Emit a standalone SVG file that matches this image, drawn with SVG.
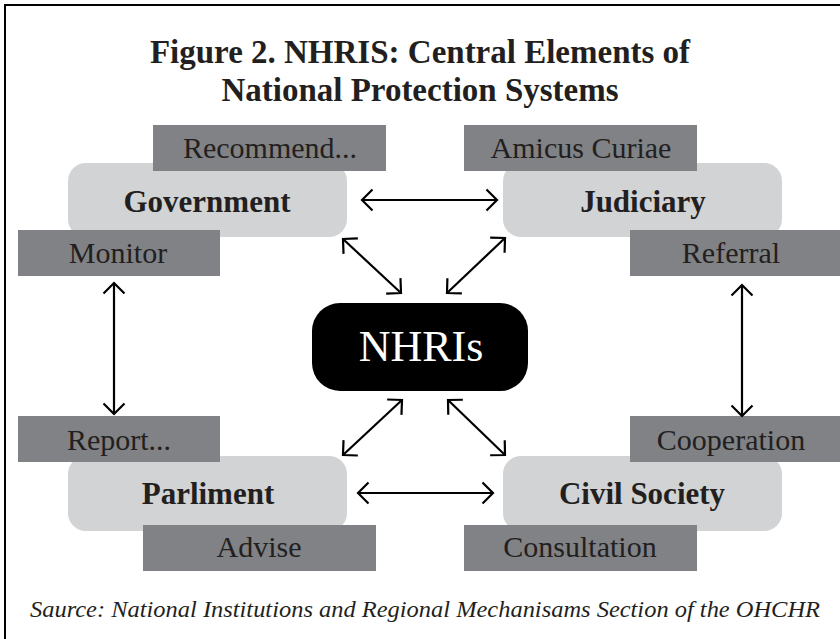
<svg xmlns="http://www.w3.org/2000/svg" width="840" height="639" viewBox="0 0 840 639">
<style>
.title{font-family:"Liberation Serif",serif;font-weight:bold;font-size:33px;fill:#231f20;text-anchor:middle}
.src{font-family:"Liberation Serif",serif;font-style:italic;font-size:24px;fill:#231f20}
.node{fill:#d1d3d4}
.ntext{font-family:"Liberation Serif",serif;font-weight:bold;font-size:31px;fill:#231f20;text-anchor:middle}
.lab{fill:#808285}
.ltext{font-family:"Liberation Serif",serif;font-size:30px;fill:#231f20;text-anchor:middle}
.conn line{stroke:#000;stroke-width:2.2;marker-start:url(#ah);marker-end:url(#ah)}
</style>
<defs>
<marker id="ah" markerUnits="userSpaceOnUse" viewBox="-13 -13 15 26" markerWidth="15" markerHeight="26" refX="0" refY="0" orient="auto-start-reverse" overflow="visible">
<path d="M-10.5,-10.5 L0,0 L-10.5,10.5" fill="none" stroke="#000" stroke-width="2.2"/>
</marker>
</defs>
<rect x="5" y="5" width="850" height="650" fill="none" stroke="#000" stroke-width="2"/>
<text class="title" x="420" y="63">Figure 2. NHRIS: Central Elements of</text>
<text class="title" x="420" y="101">National Protection Systems</text>

<g id="government"><rect class="node" x="68" y="163" width="279" height="74" rx="18"/><text class="ntext" x="207" y="212">Government</text></g>
<g id="judiciary"><rect class="node" x="503" y="163" width="279" height="74" rx="18"/><text class="ntext" x="643" y="212">Judiciary</text></g>
<g id="parliment"><rect class="node" x="68" y="456" width="279" height="75" rx="18"/><text class="ntext" x="208" y="504">Parliment</text></g>
<g id="civil-society"><rect class="node" x="503" y="456" width="279" height="75" rx="18"/><text class="ntext" x="642" y="504">Civil Society</text></g>
<g id="nhris"><rect x="312" y="303" width="216" height="88" rx="28" fill="#000"/><text x="421" y="361" font-family="Liberation Serif, serif" font-size="44" fill="#fff" text-anchor="middle">NHRIs</text></g>

<g id="label-recommend"><rect class="lab" x="153" y="125" width="233" height="46"/><text class="ltext" x="270" y="158">Recommend...</text></g>
<g id="label-amicus"><rect class="lab" x="464" y="125" width="233" height="46"/><text class="ltext" x="581" y="158">Amicus Curiae</text></g>
<g id="label-monitor"><rect class="lab" x="18" y="230" width="202" height="46"/><text class="ltext" x="118" y="263">Monitor</text></g>
<g id="label-referral"><rect class="lab" x="630" y="230" width="210" height="46"/><text class="ltext" x="731" y="263">Referral</text></g>
<g id="label-report"><rect class="lab" x="18" y="416" width="202" height="46"/><text class="ltext" x="119" y="450">Report...</text></g>
<g id="label-cooperation"><rect class="lab" x="630" y="416" width="210" height="46"/><text class="ltext" x="731" y="450">Cooperation</text></g>
<g id="label-advise"><rect class="lab" x="143" y="525" width="233" height="46"/><text class="ltext" x="259" y="557">Advise</text></g>
<g id="label-consultation"><rect class="lab" x="464" y="525" width="233" height="46"/><text class="ltext" x="580" y="557">Consultation</text></g>

<g id="connectors" class="conn">
<line x1="362" y1="200" x2="497" y2="200"/>
<line x1="358" y1="493" x2="493" y2="493"/>
<line x1="114" y1="283" x2="114" y2="414"/>
<line x1="742" y1="285" x2="742" y2="416"/>
<line x1="343" y1="239" x2="401" y2="293"/>
<line x1="505" y1="238" x2="447" y2="293"/>
<line x1="343" y1="455" x2="402" y2="400"/>
<line x1="505" y1="455" x2="448" y2="400"/>
</g>

<text class="src" x="30" y="617" textLength="790" lengthAdjust="spacingAndGlyphs">Saurce: National Institutions and Regional Mechanisams Section of the OHCHR</text>
</svg>
